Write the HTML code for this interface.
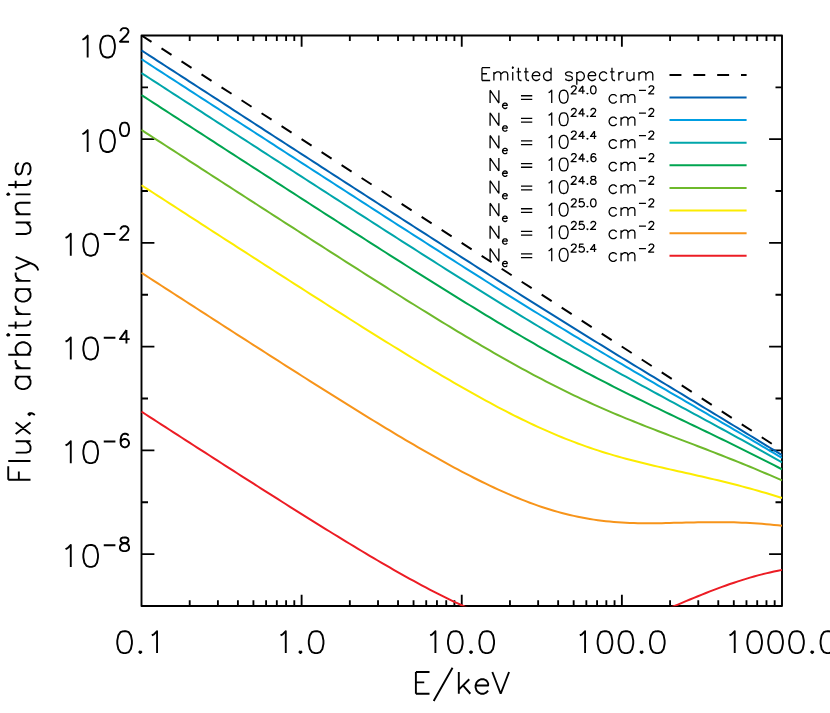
<!DOCTYPE html>
<html><head><meta charset="utf-8"><title>Flux vs E/keV</title>
<style>html,body{margin:0;padding:0;background:#fff;font-family:"Liberation Sans",sans-serif}svg{display:block}</style></head>
<body>
<svg width="830" height="713" viewBox="0 0 830 713">
<rect width="830" height="713" fill="#fff"/>
<defs><clipPath id="c"><rect x="141.1" y="35.05" width="641.3" height="571.3"/></clipPath></defs>
<path d="M189.7 35.45v5.6 M189.7 605.95v-5.6 M217.9 35.45v5.6 M217.9 605.95v-5.6 M237.9 35.45v5.6 M237.9 605.95v-5.6 M253.42 35.45v5.6 M253.42 605.95v-5.6 M266.1 35.45v5.6 M266.1 605.95v-5.6 M276.82 35.45v5.6 M276.82 605.95v-5.6 M286.11 35.45v5.6 M286.11 605.95v-5.6 M294.3 35.45v5.6 M294.3 605.95v-5.6 M301.62 35.45v11.3 M301.62 605.95v-11.3 M349.83 35.45v5.6 M349.83 605.95v-5.6 M378.02 35.45v5.6 M378.02 605.95v-5.6 M398.03 35.45v5.6 M398.03 605.95v-5.6 M413.55 35.45v5.6 M413.55 605.95v-5.6 M426.23 35.45v5.6 M426.23 605.95v-5.6 M436.95 35.45v5.6 M436.95 605.95v-5.6 M446.23 35.45v5.6 M446.23 605.95v-5.6 M454.42 35.45v5.6 M454.42 605.95v-5.6 M461.75 35.45v11.3 M461.75 605.95v-11.3 M509.95 35.45v5.6 M509.95 605.95v-5.6 M538.15 35.45v5.6 M538.15 605.95v-5.6 M558.15 35.45v5.6 M558.15 605.95v-5.6 M573.67 35.45v5.6 M573.67 605.95v-5.6 M586.35 35.45v5.6 M586.35 605.95v-5.6 M597.07 35.45v5.6 M597.07 605.95v-5.6 M606.36 35.45v5.6 M606.36 605.95v-5.6 M614.55 35.45v5.6 M614.55 605.95v-5.6 M621.88 35.45v11.3 M621.88 605.95v-11.3 M670.08 35.45v5.6 M670.08 605.95v-5.6 M698.27 35.45v5.6 M698.27 605.95v-5.6 M718.28 35.45v5.6 M718.28 605.95v-5.6 M733.8 35.45v5.6 M733.8 605.95v-5.6 M746.48 35.45v5.6 M746.48 605.95v-5.6 M757.2 35.45v5.6 M757.2 605.95v-5.6 M766.48 35.45v5.6 M766.48 605.95v-5.6 M774.67 35.45v5.6 M774.67 605.95v-5.6 M141.5 87.31h6.5 M782 87.31h-6.5 M141.5 139.18h12.9 M782 139.18h-12.9 M141.5 191.04h6.5 M782 191.04h-6.5 M141.5 242.9h12.9 M782 242.9h-12.9 M141.5 294.77h6.5 M782 294.77h-6.5 M141.5 346.63h12.9 M782 346.63h-12.9 M141.5 398.5h6.5 M782 398.5h-6.5 M141.5 450.36h12.9 M782 450.36h-12.9 M141.5 502.22h6.5 M782 502.22h-6.5 M141.5 554.09h12.9 M782 554.09h-12.9" fill="none" stroke="#000" stroke-width="1.85"/>
<rect x="141.5" y="35.45" width="640.5" height="570.5" fill="none" stroke="#000" stroke-width="1.9" stroke-linejoin="round"/>
<g clip-path="url(#c)" fill="none" stroke-width="2.0" stroke-linejoin="round">
<path d="M141.5 35.45 L782 450.36" stroke="#000" stroke-dasharray="11.92 11.92"/>
<path d="M141.5 50.43 L145.5 53.02 L149.51 55.61 L153.51 58.21 L157.51 60.8 L161.52 63.39 L165.52 65.98 L169.52 68.58 L173.52 71.17 L177.53 73.76 L181.53 76.36 L185.53 78.95 L189.54 81.54 L193.54 84.13 L197.54 86.73 L201.55 89.32 L205.55 91.91 L209.55 94.5 L213.56 97.09 L217.56 99.69 L221.56 102.28 L225.57 104.87 L229.57 107.46 L233.57 110.06 L237.57 112.65 L241.58 115.24 L245.58 117.83 L249.58 120.42 L253.59 123.01 L257.59 125.61 L261.59 128.2 L265.6 130.79 L269.6 133.38 L273.6 135.97 L277.61 138.56 L281.61 141.15 L285.61 143.74 L289.62 146.33 L293.62 148.92 L297.62 151.51 L301.62 154.1 L305.63 156.69 L309.63 159.28 L313.63 161.87 L317.64 164.46 L321.64 167.05 L325.64 169.64 L329.65 172.23 L333.65 174.81 L337.65 177.4 L341.66 179.99 L345.66 182.58 L349.66 185.16 L353.67 187.75 L357.67 190.34 L361.67 192.92 L365.67 195.51 L369.68 198.09 L373.68 200.68 L377.68 203.26 L381.69 205.84 L385.69 208.42 L389.69 211.01 L393.7 213.59 L397.7 216.17 L401.7 218.75 L405.71 221.33 L409.71 223.91 L413.71 226.48 L417.72 229.06 L421.72 231.64 L425.72 234.21 L429.73 236.78 L433.73 239.36 L437.73 241.93 L441.73 244.5 L445.74 247.07 L449.74 249.64 L453.74 252.2 L457.75 254.77 L461.75 257.33 L465.75 259.89 L469.76 262.45 L473.76 265.01 L477.76 267.57 L481.77 270.12 L485.77 272.67 L489.77 275.23 L493.78 277.77 L497.78 280.32 L501.78 282.86 L505.78 285.41 L509.79 287.94 L513.79 290.48 L517.79 293.01 L521.8 295.55 L525.8 298.07 L529.8 300.6 L533.81 303.12 L537.81 305.64 L541.81 308.15 L545.82 310.67 L549.82 313.18 L553.82 315.68 L557.83 318.18 L561.83 320.68 L565.83 323.18 L569.83 325.67 L573.84 328.16 L577.84 330.64 L581.84 333.12 L585.85 335.6 L589.85 338.07 L593.85 340.54 L597.86 343.01 L601.86 345.47 L605.86 347.93 L609.87 350.38 L613.87 352.84 L617.87 355.28 L621.88 357.73 L625.88 360.17 L629.88 362.61 L633.88 365.05 L637.89 367.49 L641.89 369.92 L645.89 372.35 L649.9 374.78 L653.9 377.21 L657.9 379.64 L661.91 382.06 L665.91 384.49 L669.91 386.91 L673.92 389.34 L677.92 391.76 L681.92 394.18 L685.92 396.61 L689.93 399.03 L693.93 401.45 L697.93 403.88 L701.94 406.3 L705.94 408.73 L709.94 411.16 L713.95 413.58 L717.95 416.01 L721.95 418.45 L725.96 420.88 L729.96 423.31 L733.96 425.75 L737.97 428.18 L741.97 430.62 L745.97 433.06 L749.98 435.51 L753.98 437.95 L757.98 440.4 L761.98 442.85 L765.99 445.3 L769.99 447.75 L773.99 450.2 L778 452.66 L782 455.12" stroke="#0060b0"/>
<path d="M141.5 59.19 L145.5 61.78 L149.51 64.37 L153.51 66.97 L157.51 69.56 L161.52 72.15 L165.52 74.74 L169.52 77.34 L173.52 79.93 L177.53 82.52 L181.53 85.11 L185.53 87.71 L189.54 90.3 L193.54 92.89 L197.54 95.48 L201.55 98.07 L205.55 100.67 L209.55 103.26 L213.56 105.85 L217.56 108.44 L221.56 111.03 L225.57 113.62 L229.57 116.22 L233.57 118.81 L237.57 121.4 L241.58 123.99 L245.58 126.58 L249.58 129.17 L253.59 131.76 L257.59 134.35 L261.59 136.94 L265.6 139.53 L269.6 142.12 L273.6 144.71 L277.61 147.3 L281.61 149.89 L285.61 152.48 L289.62 155.07 L293.62 157.66 L297.62 160.24 L301.62 162.83 L305.63 165.42 L309.63 168.01 L313.63 170.59 L317.64 173.18 L321.64 175.77 L325.64 178.35 L329.65 180.94 L333.65 183.52 L337.65 186.11 L341.66 188.69 L345.66 191.28 L349.66 193.86 L353.67 196.44 L357.67 199.02 L361.67 201.61 L365.67 204.19 L369.68 206.77 L373.68 209.34 L377.68 211.92 L381.69 214.5 L385.69 217.08 L389.69 219.65 L393.7 222.23 L397.7 224.8 L401.7 227.37 L405.71 229.94 L409.71 232.51 L413.71 235.08 L417.72 237.65 L421.72 240.21 L425.72 242.78 L429.73 245.34 L433.73 247.9 L437.73 250.46 L441.73 253.02 L445.74 255.57 L449.74 258.12 L453.74 260.67 L457.75 263.22 L461.75 265.77 L465.75 268.31 L469.76 270.85 L473.76 273.39 L477.76 275.93 L481.77 278.46 L485.77 280.99 L489.77 283.51 L493.78 286.03 L497.78 288.55 L501.78 291.07 L505.78 293.58 L509.79 296.09 L513.79 298.59 L517.79 301.09 L521.8 303.58 L525.8 306.07 L529.8 308.56 L533.81 311.04 L537.81 313.51 L541.81 315.98 L545.82 318.45 L549.82 320.91 L553.82 323.36 L557.83 325.81 L561.83 328.26 L565.83 330.69 L569.83 333.13 L573.84 335.55 L577.84 337.97 L581.84 340.39 L585.85 342.79 L589.85 345.2 L593.85 347.59 L597.86 349.99 L601.86 352.37 L605.86 354.75 L609.87 357.13 L613.87 359.5 L617.87 361.86 L621.88 364.22 L625.88 366.58 L629.88 368.93 L633.88 371.28 L637.89 373.62 L641.89 375.96 L645.89 378.3 L649.9 380.63 L653.9 382.96 L657.9 385.29 L661.91 387.62 L665.91 389.95 L669.91 392.27 L673.92 394.6 L677.92 396.92 L681.92 399.24 L685.92 401.57 L689.93 403.89 L693.93 406.22 L697.93 408.54 L701.94 410.87 L705.94 413.2 L709.94 415.53 L713.95 417.86 L717.95 420.19 L721.95 422.53 L725.96 424.87 L729.96 427.21 L733.96 429.55 L737.97 431.9 L741.97 434.25 L745.97 436.6 L749.98 438.95 L753.98 441.31 L757.98 443.67 L761.98 446.04 L765.99 448.4 L769.99 450.77 L773.99 453.14 L778 455.52 L782 457.9" stroke="#009ee2"/>
<path d="M141.5 73.07 L145.5 75.67 L149.51 78.26 L153.51 80.85 L157.51 83.44 L161.52 86.03 L165.52 88.63 L169.52 91.22 L173.52 93.81 L177.53 96.4 L181.53 98.99 L185.53 101.59 L189.54 104.18 L193.54 106.77 L197.54 109.36 L201.55 111.95 L205.55 114.54 L209.55 117.13 L213.56 119.72 L217.56 122.31 L221.56 124.91 L225.57 127.5 L229.57 130.09 L233.57 132.68 L237.57 135.27 L241.58 137.86 L245.58 140.44 L249.58 143.03 L253.59 145.62 L257.59 148.21 L261.59 150.8 L265.6 153.39 L269.6 155.98 L273.6 158.56 L277.61 161.15 L281.61 163.74 L285.61 166.33 L289.62 168.91 L293.62 171.5 L297.62 174.08 L301.62 176.67 L305.63 179.25 L309.63 181.84 L313.63 184.42 L317.64 187 L321.64 189.59 L325.64 192.17 L329.65 194.75 L333.65 197.33 L337.65 199.91 L341.66 202.49 L345.66 205.07 L349.66 207.64 L353.67 210.22 L357.67 212.79 L361.67 215.37 L365.67 217.94 L369.68 220.51 L373.68 223.08 L377.68 225.65 L381.69 228.22 L385.69 230.79 L389.69 233.35 L393.7 235.92 L397.7 238.48 L401.7 241.04 L405.71 243.59 L409.71 246.15 L413.71 248.7 L417.72 251.26 L421.72 253.81 L425.72 256.35 L429.73 258.9 L433.73 261.44 L437.73 263.98 L441.73 266.51 L445.74 269.05 L449.74 271.57 L453.74 274.1 L457.75 276.62 L461.75 279.14 L465.75 281.66 L469.76 284.17 L473.76 286.67 L477.76 289.17 L481.77 291.67 L485.77 294.16 L489.77 296.65 L493.78 299.13 L497.78 301.6 L501.78 304.07 L505.78 306.54 L509.79 308.99 L513.79 311.44 L517.79 313.89 L521.8 316.32 L525.8 318.75 L529.8 321.18 L533.81 323.59 L537.81 326 L541.81 328.39 L545.82 330.78 L549.82 333.17 L553.82 335.54 L557.83 337.9 L561.83 340.26 L565.83 342.61 L569.83 344.94 L573.84 347.27 L577.84 349.59 L581.84 351.9 L585.85 354.2 L589.85 356.49 L593.85 358.77 L597.86 361.05 L601.86 363.31 L605.86 365.57 L609.87 367.82 L613.87 370.05 L617.87 372.29 L621.88 374.51 L625.88 376.73 L629.88 378.94 L633.88 381.14 L637.89 383.34 L641.89 385.53 L645.89 387.72 L649.9 389.9 L653.9 392.08 L657.9 394.25 L661.91 396.43 L665.91 398.6 L669.91 400.77 L673.92 402.93 L677.92 405.1 L681.92 407.26 L685.92 409.43 L689.93 411.6 L693.93 413.77 L697.93 415.94 L701.94 418.11 L705.94 420.28 L709.94 422.46 L713.95 424.64 L717.95 426.82 L721.95 429 L725.96 431.19 L729.96 433.39 L733.96 435.58 L737.97 437.79 L741.97 439.99 L745.97 442.2 L749.98 444.42 L753.98 446.64 L757.98 448.86 L761.98 451.09 L765.99 453.32 L769.99 455.56 L773.99 457.81 L778 460.05 L782 462.31" stroke="#00a6aa"/>
<path d="M141.5 95.08 L145.5 97.67 L149.51 100.26 L153.51 102.85 L157.51 105.45 L161.52 108.04 L165.52 110.63 L169.52 113.22 L173.52 115.81 L177.53 118.4 L181.53 120.99 L185.53 123.58 L189.54 126.17 L193.54 128.76 L197.54 131.35 L201.55 133.94 L205.55 136.53 L209.55 139.12 L213.56 141.71 L217.56 144.3 L221.56 146.89 L225.57 149.48 L229.57 152.07 L233.57 154.66 L237.57 157.25 L241.58 159.83 L245.58 162.42 L249.58 165.01 L253.59 167.59 L257.59 170.18 L261.59 172.77 L265.6 175.35 L269.6 177.94 L273.6 180.52 L277.61 183.11 L281.61 185.69 L285.61 188.27 L289.62 190.85 L293.62 193.44 L297.62 196.02 L301.62 198.6 L305.63 201.18 L309.63 203.76 L313.63 206.33 L317.64 208.91 L321.64 211.49 L325.64 214.06 L329.65 216.63 L333.65 219.21 L337.65 221.78 L341.66 224.35 L345.66 226.92 L349.66 229.49 L353.67 232.05 L357.67 234.62 L361.67 237.18 L365.67 239.74 L369.68 242.3 L373.68 244.86 L377.68 247.41 L381.69 249.97 L385.69 252.52 L389.69 255.07 L393.7 257.61 L397.7 260.15 L401.7 262.7 L405.71 265.23 L409.71 267.77 L413.71 270.3 L417.72 272.82 L421.72 275.35 L425.72 277.87 L429.73 280.38 L433.73 282.9 L437.73 285.4 L441.73 287.9 L445.74 290.4 L449.74 292.89 L453.74 295.38 L457.75 297.86 L461.75 300.34 L465.75 302.8 L469.76 305.26 L473.76 307.72 L477.76 310.17 L481.77 312.61 L485.77 315.04 L489.77 317.46 L493.78 319.88 L497.78 322.28 L501.78 324.68 L505.78 327.07 L509.79 329.45 L513.79 331.81 L517.79 334.17 L521.8 336.51 L525.8 338.85 L529.8 341.17 L533.81 343.48 L537.81 345.78 L541.81 348.06 L545.82 350.33 L549.82 352.59 L553.82 354.84 L557.83 357.07 L561.83 359.28 L565.83 361.49 L569.83 363.67 L573.84 365.85 L577.84 368 L581.84 370.15 L585.85 372.28 L589.85 374.39 L593.85 376.49 L597.86 378.58 L601.86 380.65 L605.86 382.71 L609.87 384.76 L613.87 386.79 L617.87 388.81 L621.88 390.82 L625.88 392.81 L629.88 394.8 L633.88 396.77 L637.89 398.74 L641.89 400.7 L645.89 402.65 L649.9 404.59 L653.9 406.53 L657.9 408.46 L661.91 410.38 L665.91 412.31 L669.91 414.23 L673.92 416.14 L677.92 418.06 L681.92 419.98 L685.92 421.89 L689.93 423.81 L693.93 425.73 L697.93 427.65 L701.94 429.58 L705.94 431.51 L709.94 433.44 L713.95 435.38 L717.95 437.32 L721.95 439.27 L725.96 441.22 L729.96 443.18 L733.96 445.14 L737.97 447.12 L741.97 449.1 L745.97 451.08 L749.98 453.08 L753.98 455.08 L757.98 457.09 L761.98 459.1 L765.99 461.12 L769.99 463.16 L773.99 465.2 L778 467.24 L782 469.3" stroke="#00a550"/>
<path d="M141.5 129.96 L145.5 132.55 L149.51 135.14 L153.51 137.73 L157.51 140.32 L161.52 142.91 L165.52 145.5 L169.52 148.09 L173.52 150.68 L177.53 153.27 L181.53 155.86 L185.53 158.45 L189.54 161.04 L193.54 163.63 L197.54 166.21 L201.55 168.8 L205.55 171.39 L209.55 173.98 L213.56 176.57 L217.56 179.15 L221.56 181.74 L225.57 184.33 L229.57 186.91 L233.57 189.5 L237.57 192.08 L241.58 194.67 L245.58 197.25 L249.58 199.83 L253.59 202.42 L257.59 205 L261.59 207.58 L265.6 210.16 L269.6 212.74 L273.6 215.32 L277.61 217.9 L281.61 220.48 L285.61 223.05 L289.62 225.63 L293.62 228.2 L297.62 230.78 L301.62 233.35 L305.63 235.92 L309.63 238.49 L313.63 241.06 L317.64 243.63 L321.64 246.2 L325.64 248.76 L329.65 251.32 L333.65 253.88 L337.65 256.44 L341.66 259 L345.66 261.55 L349.66 264.11 L353.67 266.66 L357.67 269.2 L361.67 271.75 L365.67 274.29 L369.68 276.83 L373.68 279.37 L377.68 281.9 L381.69 284.43 L385.69 286.96 L389.69 289.48 L393.7 292 L397.7 294.51 L401.7 297.02 L405.71 299.53 L409.71 302.03 L413.71 304.52 L417.72 307.01 L421.72 309.49 L425.72 311.97 L429.73 314.44 L433.73 316.9 L437.73 319.36 L441.73 321.81 L445.74 324.25 L449.74 326.68 L453.74 329.11 L457.75 331.52 L461.75 333.93 L465.75 336.32 L469.76 338.71 L473.76 341.08 L477.76 343.44 L481.77 345.79 L485.77 348.13 L489.77 350.45 L493.78 352.77 L497.78 355.06 L501.78 357.34 L505.78 359.61 L509.79 361.86 L513.79 364.1 L517.79 366.32 L521.8 368.52 L525.8 370.7 L529.8 372.86 L533.81 375.01 L537.81 377.13 L541.81 379.23 L545.82 381.32 L549.82 383.38 L553.82 385.42 L557.83 387.44 L561.83 389.43 L565.83 391.41 L569.83 393.36 L573.84 395.28 L577.84 397.19 L581.84 399.07 L585.85 400.93 L589.85 402.76 L593.85 404.58 L597.86 406.37 L601.86 408.13 L605.86 409.88 L609.87 411.6 L613.87 413.31 L617.87 414.99 L621.88 416.66 L625.88 418.31 L629.88 419.94 L633.88 421.55 L637.89 423.15 L641.89 424.74 L645.89 426.31 L649.9 427.87 L653.9 429.43 L657.9 430.97 L661.91 432.51 L665.91 434.04 L669.91 435.56 L673.92 437.08 L677.92 438.61 L681.92 440.13 L685.92 441.65 L689.93 443.17 L693.93 444.69 L697.93 446.22 L701.94 447.76 L705.94 449.3 L709.94 450.84 L713.95 452.4 L717.95 453.96 L721.95 455.53 L725.96 457.11 L729.96 458.7 L733.96 460.3 L737.97 461.9 L741.97 463.53 L745.97 465.16 L749.98 466.8 L753.98 468.45 L757.98 470.12 L761.98 471.8 L765.99 473.49 L769.99 475.19 L773.99 476.91 L778 478.63 L782 480.38" stroke="#6eb92b"/>
<path d="M141.5 185.23 L145.5 187.82 L149.51 190.41 L153.51 193 L157.51 195.59 L161.52 198.18 L165.52 200.77 L169.52 203.35 L173.52 205.94 L177.53 208.53 L181.53 211.12 L185.53 213.7 L189.54 216.29 L193.54 218.88 L197.54 221.46 L201.55 224.05 L205.55 226.63 L209.55 229.22 L213.56 231.8 L217.56 234.38 L221.56 236.97 L225.57 239.55 L229.57 242.13 L233.57 244.71 L237.57 247.29 L241.58 249.87 L245.58 252.45 L249.58 255.03 L253.59 257.61 L257.59 260.18 L261.59 262.76 L265.6 265.33 L269.6 267.9 L273.6 270.47 L277.61 273.04 L281.61 275.61 L285.61 278.18 L289.62 280.75 L293.62 283.31 L297.62 285.87 L301.62 288.43 L305.63 290.99 L309.63 293.55 L313.63 296.1 L317.64 298.66 L321.64 301.21 L325.64 303.75 L329.65 306.3 L333.65 308.84 L337.65 311.38 L341.66 313.91 L345.66 316.45 L349.66 318.98 L353.67 321.5 L357.67 324.02 L361.67 326.54 L365.67 329.05 L369.68 331.56 L373.68 334.06 L377.68 336.56 L381.69 339.06 L385.69 341.54 L389.69 344.02 L393.7 346.5 L397.7 348.96 L401.7 351.42 L405.71 353.88 L409.71 356.32 L413.71 358.76 L417.72 361.19 L421.72 363.61 L425.72 366.01 L429.73 368.41 L433.73 370.8 L437.73 373.18 L441.73 375.54 L445.74 377.89 L449.74 380.23 L453.74 382.56 L457.75 384.87 L461.75 387.16 L465.75 389.44 L469.76 391.71 L473.76 393.95 L477.76 396.18 L481.77 398.39 L485.77 400.57 L489.77 402.74 L493.78 404.89 L497.78 407.01 L501.78 409.11 L505.78 411.19 L509.79 413.24 L513.79 415.27 L517.79 417.26 L521.8 419.23 L525.8 421.18 L529.8 423.09 L533.81 424.97 L537.81 426.82 L541.81 428.64 L545.82 430.42 L549.82 432.17 L553.82 433.89 L557.83 435.57 L561.83 437.22 L565.83 438.83 L569.83 440.4 L573.84 441.94 L577.84 443.44 L581.84 444.91 L585.85 446.34 L589.85 447.73 L593.85 449.08 L597.86 450.4 L601.86 451.69 L605.86 452.94 L609.87 454.16 L613.87 455.34 L617.87 456.49 L621.88 457.62 L625.88 458.71 L629.88 459.78 L633.88 460.82 L637.89 461.84 L641.89 462.84 L645.89 463.81 L649.9 464.77 L653.9 465.72 L657.9 466.65 L661.91 467.56 L665.91 468.47 L669.91 469.38 L673.92 470.27 L677.92 471.17 L681.92 472.06 L685.92 472.95 L689.93 473.85 L693.93 474.75 L697.93 475.66 L701.94 476.57 L705.94 477.49 L709.94 478.43 L713.95 479.37 L717.95 480.33 L721.95 481.3 L725.96 482.29 L729.96 483.29 L733.96 484.31 L737.97 485.34 L741.97 486.39 L745.97 487.46 L749.98 488.55 L753.98 489.65 L757.98 490.78 L761.98 491.92 L765.99 493.08 L769.99 494.27 L773.99 495.47 L778 496.69 L782 497.93" stroke="#fcec00"/>
<path d="M141.5 272.84 L145.5 275.42 L149.51 278.01 L153.51 280.6 L157.51 283.19 L161.52 285.77 L165.52 288.36 L169.52 290.94 L173.52 293.53 L177.53 296.11 L181.53 298.7 L185.53 301.28 L189.54 303.86 L193.54 306.44 L197.54 309.03 L201.55 311.61 L205.55 314.19 L209.55 316.77 L213.56 319.34 L217.56 321.92 L221.56 324.5 L225.57 327.08 L229.57 329.65 L233.57 332.22 L237.57 334.8 L241.58 337.37 L245.58 339.94 L249.58 342.51 L253.59 345.07 L257.59 347.64 L261.59 350.2 L265.6 352.77 L269.6 355.33 L273.6 357.89 L277.61 360.44 L281.61 363 L285.61 365.55 L289.62 368.1 L293.62 370.65 L297.62 373.19 L301.62 375.73 L305.63 378.27 L309.63 380.81 L313.63 383.34 L317.64 385.87 L321.64 388.39 L325.64 390.91 L329.65 393.43 L333.65 395.94 L337.65 398.45 L341.66 400.95 L345.66 403.45 L349.66 405.94 L353.67 408.42 L357.67 410.9 L361.67 413.38 L365.67 415.84 L369.68 418.3 L373.68 420.75 L377.68 423.19 L381.69 425.63 L385.69 428.05 L389.69 430.47 L393.7 432.87 L397.7 435.27 L401.7 437.65 L405.71 440.02 L409.71 442.38 L413.71 444.72 L417.72 447.05 L421.72 449.37 L425.72 451.67 L429.73 453.96 L433.73 456.22 L437.73 458.47 L441.73 460.7 L445.74 462.91 L449.74 465.1 L453.74 467.27 L457.75 469.42 L461.75 471.54 L465.75 473.64 L469.76 475.7 L473.76 477.75 L477.76 479.76 L481.77 481.74 L485.77 483.69 L489.77 485.61 L493.78 487.5 L497.78 489.35 L501.78 491.16 L505.78 492.93 L509.79 494.67 L513.79 496.36 L517.79 498.01 L521.8 499.62 L525.8 501.18 L529.8 502.69 L533.81 504.16 L537.81 505.57 L541.81 506.93 L545.82 508.25 L549.82 509.51 L553.82 510.71 L557.83 511.86 L561.83 512.95 L565.83 513.99 L569.83 514.97 L573.84 515.89 L577.84 516.75 L581.84 517.56 L585.85 518.31 L589.85 518.99 L593.85 519.63 L597.86 520.2 L601.86 520.72 L605.86 521.19 L609.87 521.6 L613.87 521.96 L617.87 522.27 L621.88 522.53 L625.88 522.75 L629.88 522.93 L633.88 523.06 L637.89 523.16 L641.89 523.22 L645.89 523.25 L649.9 523.26 L653.9 523.23 L657.9 523.19 L661.91 523.13 L665.91 523.05 L669.91 522.97 L673.92 522.87 L677.92 522.77 L681.92 522.67 L685.92 522.57 L689.93 522.47 L693.93 522.38 L697.93 522.3 L701.94 522.24 L705.94 522.18 L709.94 522.15 L713.95 522.13 L717.95 522.13 L721.95 522.15 L725.96 522.2 L729.96 522.27 L733.96 522.37 L737.97 522.49 L741.97 522.64 L745.97 522.81 L749.98 523.02 L753.98 523.26 L757.98 523.52 L761.98 523.81 L765.99 524.14 L769.99 524.5 L773.99 524.88 L778 525.3 L782 525.76" stroke="#f7941a"/>
<path d="M141.5 411.68 L145.5 414.27 L149.51 416.85 L153.51 419.43 L157.51 422.02 L161.52 424.6 L165.52 427.18 L169.52 429.76 L173.52 432.34 L177.53 434.92 L181.53 437.5 L185.53 440.08 L189.54 442.65 L193.54 445.23 L197.54 447.8 L201.55 450.38 L205.55 452.95 L209.55 455.52 L213.56 458.09 L217.56 460.66 L221.56 463.23 L225.57 465.79 L229.57 468.36 L233.57 470.92 L237.57 473.48 L241.58 476.04 L245.58 478.6 L249.58 481.15 L253.59 483.7 L257.59 486.25 L261.59 488.8 L265.6 491.34 L269.6 493.88 L273.6 496.42 L277.61 498.96 L281.61 501.49 L285.61 504.02 L289.62 506.54 L293.62 509.06 L297.62 511.58 L301.62 514.09 L305.63 516.6 L309.63 519.1 L313.63 521.6 L317.64 524.09 L321.64 526.57 L325.64 529.05 L329.65 531.52 L333.65 533.99 L337.65 536.44 L341.66 538.89 L345.66 541.33 L349.66 543.76 L353.67 546.19 L357.67 548.6 L361.67 551 L365.67 553.39 L369.68 555.77 L373.68 558.14 L377.68 560.49 L381.69 562.84 L385.69 565.16 L389.69 567.47 L393.7 569.77 L397.7 572.04 L401.7 574.3 L405.71 576.55 L409.71 578.77 L413.71 580.97 L417.72 583.14 L421.72 585.3 L425.72 587.43 L429.73 589.53 L433.73 591.61 L437.73 593.66 L441.73 595.68 L445.74 597.66 L449.74 599.62 L453.74 601.54 L457.75 603.42 L461.75 605.27 L465.75 607.07 L469.76 608.83 L473.76 610.55 L477.76 612.23 L481.77 613.85 L485.77 615.43 L489.77 616.96 L493.78 618.43 L497.78 619.84 L501.78 621.2 L505.78 622.49 L509.79 623.72 L513.79 624.89 L517.79 625.99 L521.8 627.01 L525.8 627.97 L529.8 628.85 L533.81 629.66 L537.81 630.38 L541.81 631.03 L545.82 631.59 L549.82 632.07 L553.82 632.46 L557.83 632.77 L561.83 632.98 L565.83 633.11 L569.83 633.15 L573.84 633.09 L577.84 632.94 L581.84 632.7 L585.85 632.37 L589.85 631.94 L593.85 631.43 L597.86 630.82 L601.86 630.13 L605.86 629.35 L609.87 628.49 L613.87 627.54 L617.87 626.52 L621.88 625.42 L625.88 624.25 L629.88 623.01 L633.88 621.7 L637.89 620.34 L641.89 618.92 L645.89 617.46 L649.9 615.95 L653.9 614.39 L657.9 612.81 L661.91 611.2 L665.91 609.56 L669.91 607.9 L673.92 606.23 L677.92 604.56 L681.92 602.88 L685.92 601.2 L689.93 599.54 L693.93 597.88 L697.93 596.23 L701.94 594.61 L705.94 593.01 L709.94 591.43 L713.95 589.89 L717.95 588.37 L721.95 586.89 L725.96 585.45 L729.96 584.05 L733.96 582.68 L737.97 581.36 L741.97 580.08 L745.97 578.84 L749.98 577.65 L753.98 576.51 L757.98 575.41 L761.98 574.36 L765.99 573.36 L769.99 572.41 L773.99 571.51 L778 570.66 L782 569.86" stroke="#ec1c24"/>
</g>
<path d="M123.55 631.18 L120.41 632.22 L118.31 635.35 L117.27 640.57 L117.27 643.71 L118.31 648.92 L120.41 652.06 L123.55 653.1 L125.64 653.1 L128.78 652.06 L130.88 648.92 L131.92 643.71 L131.92 640.57 L130.88 635.35 L128.78 632.22 L125.64 631.18 L123.55 631.18 M140.3 651.01 L139.25 652.06 L140.3 653.1 L141.35 652.06 L140.3 651.01 M151.82 635.35 L153.91 634.31 L157.05 631.18 L157.05 653.1 M280.53 635.35 L282.63 634.31 L285.77 631.18 L285.77 653.1 M300.43 651.01 L299.38 652.06 L300.43 653.1 L301.47 652.06 L300.43 651.01 M315.08 631.18 L311.94 632.22 L309.85 635.35 L308.8 640.57 L308.8 643.71 L309.85 648.92 L311.94 652.06 L315.08 653.1 L317.18 653.1 L320.32 652.06 L322.41 648.92 L323.46 643.71 L323.46 640.57 L322.41 635.35 L320.32 632.22 L317.18 631.18 L315.08 631.18 M430.19 635.35 L432.28 634.31 L435.42 631.18 L435.42 653.1 M454.27 631.18 L451.13 632.22 L449.03 635.35 L447.99 640.57 L447.99 643.71 L449.03 648.92 L451.13 652.06 L454.27 653.1 L456.36 653.1 L459.5 652.06 L461.6 648.92 L462.64 643.71 L462.64 640.57 L461.6 635.35 L459.5 632.22 L456.36 631.18 L454.27 631.18 M471.02 651.01 L469.97 652.06 L471.02 653.1 L472.07 652.06 L471.02 651.01 M485.68 631.18 L482.54 632.22 L480.44 635.35 L479.4 640.57 L479.4 643.71 L480.44 648.92 L482.54 652.06 L485.68 653.1 L487.77 653.1 L490.91 652.06 L493.01 648.92 L494.05 643.71 L494.05 640.57 L493.01 635.35 L490.91 632.22 L487.77 631.18 L485.68 631.18 M579.84 635.35 L581.94 634.31 L585.08 631.18 L585.08 653.1 M603.92 631.18 L600.78 632.22 L598.69 635.35 L597.64 640.57 L597.64 643.71 L598.69 648.92 L600.78 652.06 L603.92 653.1 L606.02 653.1 L609.16 652.06 L611.25 648.92 L612.3 643.71 L612.3 640.57 L611.25 635.35 L609.16 632.22 L606.02 631.18 L603.92 631.18 M624.86 631.18 L621.72 632.22 L619.63 635.35 L618.58 640.57 L618.58 643.71 L619.63 648.92 L621.72 652.06 L624.86 653.1 L626.96 653.1 L630.1 652.06 L632.19 648.92 L633.24 643.71 L633.24 640.57 L632.19 635.35 L630.1 632.22 L626.96 631.18 L624.86 631.18 M641.62 651.01 L640.57 652.06 L641.62 653.1 L642.66 652.06 L641.62 651.01 M656.27 631.18 L653.13 632.22 L651.04 635.35 L649.99 640.57 L649.99 643.71 L651.04 648.92 L653.13 652.06 L656.27 653.1 L658.37 653.1 L661.51 652.06 L663.6 648.92 L664.65 643.71 L664.65 640.57 L663.6 635.35 L661.51 632.22 L658.37 631.18 L656.27 631.18 M729.5 635.35 L731.59 634.31 L734.73 631.18 L734.73 653.1 M753.58 631.18 L750.44 632.22 L748.34 635.35 L747.3 640.57 L747.3 643.71 L748.34 648.92 L750.44 652.06 L753.58 653.1 L755.67 653.1 L758.81 652.06 L760.91 648.92 L761.95 643.71 L761.95 640.57 L760.91 635.35 L758.81 632.22 L755.67 631.18 L753.58 631.18 M774.52 631.18 L771.38 632.22 L769.28 635.35 L768.24 640.57 L768.24 643.71 L769.28 648.92 L771.38 652.06 L774.52 653.1 L776.61 653.1 L779.75 652.06 L781.85 648.92 L782.89 643.71 L782.89 640.57 L781.85 635.35 L779.75 632.22 L776.61 631.18 L774.52 631.18 M795.46 631.18 L792.32 632.22 L790.22 635.35 L789.18 640.57 L789.18 643.71 L790.22 648.92 L792.32 652.06 L795.46 653.1 L797.55 653.1 L800.69 652.06 L802.79 648.92 L803.83 643.71 L803.83 640.57 L802.79 635.35 L800.69 632.22 L797.55 631.18 L795.46 631.18 M812.21 651.01 L811.16 652.06 L812.21 653.1 L813.26 652.06 L812.21 651.01 M826.87 631.18 L823.73 632.22 L821.63 635.35 L820.59 640.57 L820.59 643.71 L821.63 648.92 L823.73 652.06 L826.87 653.1 L828.96 653.1 L832.1 652.06 L834.2 648.92 L835.24 643.71 L835.24 640.57 L834.2 635.35 L832.1 632.22 L828.96 631.18 L826.87 631.18 M82.42 39.75 L84.51 38.71 L87.65 35.58 L87.65 57.5 M106.5 35.58 L103.36 36.62 L101.27 39.75 L100.22 44.97 L100.22 48.11 L101.27 53.32 L103.36 56.46 L106.5 57.5 L108.59 57.5 L111.74 56.46 L113.83 53.32 L114.88 48.11 L114.88 44.97 L113.83 39.75 L111.74 36.62 L108.59 35.58 L106.5 35.58 M120.61 31.34 L120.61 30.69 L121.26 29.39 L121.91 28.75 L123.21 28.1 L125.81 28.1 L127.11 28.75 L127.75 29.39 L128.4 30.69 L128.4 31.98 L127.75 33.28 L126.46 35.22 L119.96 41.69 L129.05 41.69 M82.42 134.23 L84.51 133.19 L87.65 130.06 L87.65 151.98 M106.5 130.06 L103.36 131.1 L101.27 134.23 L100.22 139.45 L100.22 142.58 L101.27 147.8 L103.36 150.93 L106.5 151.98 L108.59 151.98 L111.74 150.93 L113.83 147.8 L114.88 142.58 L114.88 139.45 L113.83 134.23 L111.74 131.1 L108.59 130.06 L106.5 130.06 M123.86 122.58 L121.91 123.22 L120.61 125.17 L119.96 128.4 L119.96 130.34 L120.61 133.58 L121.91 135.52 L123.86 136.17 L125.16 136.17 L127.11 135.52 L128.4 133.58 L129.05 130.34 L129.05 128.4 L128.4 125.17 L127.11 123.22 L125.16 122.58 L123.86 122.58 M65.54 237.96 L67.64 236.92 L70.78 233.78 L70.78 255.7 M89.62 233.78 L86.48 234.83 L84.39 237.96 L83.34 243.18 L83.34 246.31 L84.39 251.53 L86.48 254.66 L89.62 255.7 L91.72 255.7 L94.86 254.66 L96.95 251.53 L98 246.31 L98 243.18 L96.95 237.96 L94.86 234.83 L91.72 233.78 L89.62 233.78 M103.74 234.07 L115.42 234.07 M120.61 229.54 L120.61 228.89 L121.26 227.6 L121.91 226.95 L123.21 226.3 L125.81 226.3 L127.11 226.95 L127.75 227.6 L128.4 228.89 L128.4 230.19 L127.75 231.48 L126.46 233.42 L119.96 239.89 L129.05 239.89 M65.54 341.69 L67.64 340.64 L70.78 337.51 L70.78 359.43 M89.62 337.51 L86.48 338.55 L84.39 341.69 L83.34 346.91 L83.34 350.04 L84.39 355.26 L86.48 358.39 L89.62 359.43 L91.72 359.43 L94.86 358.39 L96.95 355.26 L98 350.04 L98 346.91 L96.95 341.69 L94.86 338.55 L91.72 337.51 L89.62 337.51 M103.74 337.8 L115.42 337.8 M126.46 330.03 L119.96 339.09 L129.7 339.09 M126.46 330.03 L126.46 343.62 M65.54 445.41 L67.64 444.37 L70.78 441.24 L70.78 463.16 M89.62 441.24 L86.48 442.28 L84.39 445.41 L83.34 450.63 L83.34 453.76 L84.39 458.98 L86.48 462.12 L89.62 463.16 L91.72 463.16 L94.86 462.12 L96.95 458.98 L98 453.76 L98 450.63 L96.95 445.41 L94.86 442.28 L91.72 441.24 L89.62 441.24 M103.74 441.52 L115.42 441.52 M128.4 435.7 L127.75 434.41 L125.81 433.76 L124.51 433.76 L122.56 434.41 L121.26 436.35 L120.61 439.58 L120.61 442.82 L121.26 445.41 L122.56 446.7 L124.51 447.35 L125.16 447.35 L127.11 446.7 L128.4 445.41 L129.05 443.47 L129.05 442.82 L128.4 440.88 L127.11 439.58 L125.16 438.94 L124.51 438.94 L122.56 439.58 L121.26 440.88 L120.61 442.82 M65.54 549.14 L67.64 548.1 L70.78 544.97 L70.78 566.89 M89.62 544.97 L86.48 546.01 L84.39 549.14 L83.34 554.36 L83.34 557.49 L84.39 562.71 L86.48 565.84 L89.62 566.89 L91.72 566.89 L94.86 565.84 L96.95 562.71 L98 557.49 L98 554.36 L96.95 549.14 L94.86 546.01 L91.72 544.97 L89.62 544.97 M103.74 545.25 L115.42 545.25 M123.21 537.49 L121.26 538.13 L120.61 539.43 L120.61 540.72 L121.26 542.02 L122.56 542.66 L125.16 543.31 L127.11 543.96 L128.4 545.25 L129.05 546.55 L129.05 548.49 L128.4 549.78 L127.75 550.43 L125.81 551.08 L123.21 551.08 L121.26 550.43 L120.61 549.78 L119.96 548.49 L119.96 546.55 L120.61 545.25 L121.91 543.96 L123.86 543.31 L126.46 542.66 L127.75 542.02 L128.4 540.72 L128.4 539.43 L127.75 538.13 L125.81 537.49 L123.21 537.49 M415.89 671.98 L415.89 693.75 M415.89 671.98 L429.5 671.98 M415.89 682.35 L424.26 682.35 M415.89 693.75 L429.5 693.75 M452.53 667.84 L433.69 701.01 M458.81 671.98 L458.81 693.75 M469.28 679.24 L458.81 689.6 M463 685.46 L470.33 693.75 M475.57 685.46 L488.13 685.46 L488.13 683.38 L487.08 681.31 L486.04 680.28 L483.94 679.24 L480.8 679.24 L478.71 680.28 L476.61 682.35 L475.57 685.46 L475.57 687.53 L476.61 690.64 L478.71 692.71 L480.8 693.75 L483.94 693.75 L486.04 692.71 L488.13 690.64 M492.32 671.98 L500.69 693.75 M509.07 671.98 L500.69 693.75" fill="none" stroke="#000" stroke-width="1.9" stroke-linecap="butt" stroke-linejoin="round"/>
<path transform="translate(30.5 483.9) rotate(-90)" d="M4.17 -22.26 L4.17 0 M4.17 -22.26 L17.7 -22.26 M4.17 -11.66 L12.5 -11.66 M22.91 -22.26 L22.91 0 M31.24 -14.84 L31.24 -4.24 L32.28 -1.06 L34.37 0 L37.49 0 L39.57 -1.06 L42.7 -4.24 M42.7 -14.84 L42.7 0 M49.99 -14.84 L61.44 0 M61.44 -14.84 L49.99 0 M70.82 -1.06 L69.77 0 L68.73 -1.06 L69.77 -2.12 L70.82 -1.06 L70.82 1.06 L69.77 3.18 L68.73 4.24 M107.26 -14.84 L107.26 0 M107.26 -11.66 L105.18 -13.78 L103.1 -14.84 L99.97 -14.84 L97.89 -13.78 L95.81 -11.66 L94.77 -8.48 L94.77 -6.36 L95.81 -3.18 L97.89 -1.06 L99.97 0 L103.1 0 L105.18 -1.06 L107.26 -3.18 M115.6 -14.84 L115.6 0 M115.6 -8.48 L116.64 -11.66 L118.72 -13.78 L120.8 -14.84 L123.93 -14.84 M129.13 -22.26 L129.13 0 M129.13 -11.66 L131.22 -13.78 L133.3 -14.84 L136.42 -14.84 L138.51 -13.78 L140.59 -11.66 L141.63 -8.48 L141.63 -6.36 L140.59 -3.18 L138.51 -1.06 L136.42 0 L133.3 0 L131.22 -1.06 L129.13 -3.18 M147.88 -22.26 L148.92 -21.2 L149.96 -22.26 L148.92 -23.32 L147.88 -22.26 M148.92 -14.84 L148.92 0 M158.29 -22.26 L158.29 -4.24 L159.33 -1.06 L161.42 0 L163.5 0 M155.17 -14.84 L162.46 -14.84 M169.75 -14.84 L169.75 0 M169.75 -8.48 L170.79 -11.66 L172.87 -13.78 L174.96 -14.84 L178.08 -14.84 M194.74 -14.84 L194.74 0 M194.74 -11.66 L192.66 -13.78 L190.58 -14.84 L187.45 -14.84 L185.37 -13.78 L183.29 -11.66 L182.25 -8.48 L182.25 -6.36 L183.29 -3.18 L185.37 -1.06 L187.45 0 L190.58 0 L192.66 -1.06 L194.74 -3.18 M203.07 -14.84 L203.07 0 M203.07 -8.48 L204.11 -11.66 L206.2 -13.78 L208.28 -14.84 L211.4 -14.84 M214.53 -14.84 L220.78 0 M227.03 -14.84 L220.78 0 L218.69 4.24 L216.61 6.36 L214.53 7.42 L213.49 7.42 M249.94 -14.84 L249.94 -4.24 L250.98 -1.06 L253.06 0 L256.18 0 L258.27 -1.06 L261.39 -4.24 M261.39 -14.84 L261.39 0 M269.72 -14.84 L269.72 0 M269.72 -10.6 L272.85 -13.78 L274.93 -14.84 L278.05 -14.84 L280.14 -13.78 L281.18 -10.6 L281.18 0 M288.47 -22.26 L289.51 -21.2 L290.55 -22.26 L289.51 -23.32 L288.47 -22.26 M289.51 -14.84 L289.51 0 M298.88 -22.26 L298.88 -4.24 L299.92 -1.06 L302.01 0 L304.09 0 M295.76 -14.84 L303.05 -14.84 M320.75 -11.66 L319.71 -13.78 L316.59 -14.84 L313.46 -14.84 L310.34 -13.78 L309.3 -11.66 L310.34 -9.54 L312.42 -8.48 L317.63 -7.42 L319.71 -6.36 L320.75 -4.24 L320.75 -3.18 L319.71 -1.06 L316.59 0 L313.46 0 L310.34 -1.06 L309.3 -3.18" fill="none" stroke="#000" stroke-width="1.9" stroke-linecap="butt" stroke-linejoin="round"/>
<path d="M481.97 67.64 L481.97 80.5 M481.97 67.64 L490.14 67.64 M481.97 73.76 L487 73.76 M481.97 80.5 L490.14 80.5 M493.9 71.93 L493.9 80.5 M493.9 74.38 L495.79 72.54 L497.04 71.93 L498.93 71.93 L500.18 72.54 L500.81 74.38 L500.81 80.5 M500.81 74.38 L502.7 72.54 L503.95 71.93 L505.84 71.93 L507.09 72.54 L507.72 74.38 L507.72 80.5 M512.12 67.64 L512.74 68.25 L513.37 67.64 L512.74 67.03 L512.12 67.64 M512.74 71.93 L512.74 80.5 M518.4 67.64 L518.4 78.05 L519.02 79.89 L520.28 80.5 L521.54 80.5 M516.51 71.93 L520.91 71.93 M525.93 67.64 L525.93 78.05 L526.56 79.89 L527.82 80.5 L529.07 80.5 M524.05 71.93 L528.44 71.93 M532.21 75.6 L539.75 75.6 L539.75 74.38 L539.12 73.15 L538.49 72.54 L537.24 71.93 L535.35 71.93 L534.1 72.54 L532.84 73.76 L532.21 75.6 L532.21 76.83 L532.84 78.66 L534.1 79.89 L535.35 80.5 L537.24 80.5 L538.49 79.89 L539.75 78.66 M551.05 67.64 L551.05 80.5 M551.05 73.76 L549.8 72.54 L548.54 71.93 L546.66 71.93 L545.4 72.54 L544.14 73.76 L543.52 75.6 L543.52 76.83 L544.14 78.66 L545.4 79.89 L546.66 80.5 L548.54 80.5 L549.8 79.89 L551.05 78.66 M572.4 73.76 L571.78 72.54 L569.89 71.93 L568.01 71.93 L566.12 72.54 L565.5 73.76 L566.12 74.99 L567.38 75.6 L570.52 76.21 L571.78 76.83 L572.4 78.05 L572.4 78.66 L571.78 79.89 L569.89 80.5 L568.01 80.5 L566.12 79.89 L565.5 78.66 M576.8 71.93 L576.8 84.79 M576.8 73.76 L578.06 72.54 L579.31 71.93 L581.2 71.93 L582.45 72.54 L583.71 73.76 L584.34 75.6 L584.34 76.83 L583.71 78.66 L582.45 79.89 L581.2 80.5 L579.31 80.5 L578.06 79.89 L576.8 78.66 M588.1 75.6 L595.64 75.6 L595.64 74.38 L595.01 73.15 L594.38 72.54 L593.13 71.93 L591.24 71.93 L589.99 72.54 L588.73 73.76 L588.1 75.6 L588.1 76.83 L588.73 78.66 L589.99 79.89 L591.24 80.5 L593.13 80.5 L594.38 79.89 L595.64 78.66 M606.94 73.76 L605.69 72.54 L604.43 71.93 L602.55 71.93 L601.29 72.54 L600.04 73.76 L599.41 75.6 L599.41 76.83 L600.04 78.66 L601.29 79.89 L602.55 80.5 L604.43 80.5 L605.69 79.89 L606.94 78.66 M611.97 67.64 L611.97 78.05 L612.6 79.89 L613.85 80.5 L615.11 80.5 M610.08 71.93 L614.48 71.93 M618.88 71.93 L618.88 80.5 M618.88 75.6 L619.5 73.76 L620.76 72.54 L622.02 71.93 L623.9 71.93 M627.04 71.93 L627.04 78.05 L627.67 79.89 L628.92 80.5 L630.81 80.5 L632.06 79.89 L633.95 78.05 M633.95 71.93 L633.95 80.5 M638.97 71.93 L638.97 80.5 M638.97 74.38 L640.86 72.54 L642.11 71.93 L644 71.93 L645.25 72.54 L645.88 74.38 L645.88 80.5 M645.88 74.38 L647.76 72.54 L649.02 71.93 L650.9 71.93 L652.16 72.54 L652.79 74.38 L652.79 80.5 M490.09 90.24 L490.09 103.1 M490.09 90.24 L498.88 103.1 M498.88 90.24 L498.88 103.1 M502.56 105.46 L507.23 105.46 L507.23 104.7 L506.84 103.95 L506.45 103.57 L505.67 103.19 L504.5 103.19 L503.73 103.57 L502.95 104.32 L502.56 105.46 L502.56 106.22 L502.95 107.36 L503.73 108.12 L504.5 108.5 L505.67 108.5 L506.45 108.12 L507.23 107.36 M520.96 95.75 L532.26 95.75 M520.96 99.43 L532.26 99.43 M548.59 92.69 L549.85 92.08 L551.73 90.24 L551.73 103.1 M563.03 90.24 L561.15 90.85 L559.89 92.69 L559.27 95.75 L559.27 97.59 L559.89 100.65 L561.15 102.49 L563.03 103.1 L564.29 103.1 L566.17 102.49 L567.43 100.65 L568.06 97.59 L568.06 95.75 L567.43 92.69 L566.17 90.85 L564.29 90.24 L563.03 90.24 M571.5 87.79 L571.5 87.41 L571.89 86.66 L572.28 86.28 L573.06 85.9 L574.61 85.9 L575.39 86.28 L575.78 86.66 L576.17 87.41 L576.17 88.17 L575.78 88.93 L575 90.07 L571.11 93.87 L576.56 93.87 M582.79 85.9 L578.9 91.21 L584.74 91.21 M582.79 85.9 L582.79 93.87 M587.46 93.11 L587.07 93.49 L587.46 93.87 L587.85 93.49 L587.46 93.11 M592.91 85.9 L591.75 86.28 L590.97 87.41 L590.58 89.31 L590.58 90.45 L590.97 92.35 L591.75 93.49 L592.91 93.87 L593.69 93.87 L594.86 93.49 L595.64 92.35 L596.03 90.45 L596.03 89.31 L595.64 87.41 L594.86 86.28 L593.69 85.9 L592.91 85.9 M616.67 96.36 L615.41 95.14 L614.15 94.53 L612.27 94.53 L611.01 95.14 L609.76 96.36 L609.13 98.2 L609.13 99.43 L609.76 101.26 L611.01 102.49 L612.27 103.1 L614.15 103.1 L615.41 102.49 L616.67 101.26 M621.06 94.53 L621.06 103.1 M621.06 96.98 L622.95 95.14 L624.2 94.53 L626.09 94.53 L627.34 95.14 L627.97 96.98 L627.97 103.1 M627.97 96.98 L629.85 95.14 L631.11 94.53 L632.99 94.53 L634.25 95.14 L634.88 96.98 L634.88 103.1 M638.95 90.45 L645.96 90.45 M649.07 87.79 L649.07 87.41 L649.46 86.66 L649.85 86.28 L650.63 85.9 L652.19 85.9 L652.96 86.28 L653.35 86.66 L653.74 87.41 L653.74 88.17 L653.35 88.93 L652.57 90.07 L648.68 93.87 L654.13 93.87 M490.09 112.84 L490.09 125.7 M490.09 112.84 L498.88 125.7 M498.88 112.84 L498.88 125.7 M502.56 128.06 L507.23 128.06 L507.23 127.3 L506.84 126.55 L506.45 126.17 L505.67 125.79 L504.5 125.79 L503.73 126.17 L502.95 126.92 L502.56 128.06 L502.56 128.82 L502.95 129.96 L503.73 130.72 L504.5 131.1 L505.67 131.1 L506.45 130.72 L507.23 129.96 M520.96 118.35 L532.26 118.35 M520.96 122.03 L532.26 122.03 M548.59 115.29 L549.85 114.68 L551.73 112.84 L551.73 125.7 M563.03 112.84 L561.15 113.45 L559.89 115.29 L559.27 118.35 L559.27 120.19 L559.89 123.25 L561.15 125.09 L563.03 125.7 L564.29 125.7 L566.17 125.09 L567.43 123.25 L568.06 120.19 L568.06 118.35 L567.43 115.29 L566.17 113.45 L564.29 112.84 L563.03 112.84 M571.5 110.39 L571.5 110.01 L571.89 109.26 L572.28 108.88 L573.06 108.5 L574.61 108.5 L575.39 108.88 L575.78 109.26 L576.17 110.01 L576.17 110.77 L575.78 111.53 L575 112.67 L571.11 116.47 L576.56 116.47 M582.79 108.5 L578.9 113.81 L584.74 113.81 M582.79 108.5 L582.79 116.47 M587.46 115.71 L587.07 116.09 L587.46 116.47 L587.85 116.09 L587.46 115.71 M590.97 110.39 L590.97 110.01 L591.36 109.26 L591.75 108.88 L592.53 108.5 L594.08 108.5 L594.86 108.88 L595.25 109.26 L595.64 110.01 L595.64 110.77 L595.25 111.53 L594.47 112.67 L590.58 116.47 L596.03 116.47 M616.67 118.96 L615.41 117.74 L614.15 117.13 L612.27 117.13 L611.01 117.74 L609.76 118.96 L609.13 120.8 L609.13 122.03 L609.76 123.86 L611.01 125.09 L612.27 125.7 L614.15 125.7 L615.41 125.09 L616.67 123.86 M621.06 117.13 L621.06 125.7 M621.06 119.58 L622.95 117.74 L624.2 117.13 L626.09 117.13 L627.34 117.74 L627.97 119.58 L627.97 125.7 M627.97 119.58 L629.85 117.74 L631.11 117.13 L632.99 117.13 L634.25 117.74 L634.88 119.58 L634.88 125.7 M638.95 113.05 L645.96 113.05 M649.07 110.39 L649.07 110.01 L649.46 109.26 L649.85 108.88 L650.63 108.5 L652.19 108.5 L652.96 108.88 L653.35 109.26 L653.74 110.01 L653.74 110.77 L653.35 111.53 L652.57 112.67 L648.68 116.47 L654.13 116.47 M490.09 135.44 L490.09 148.3 M490.09 135.44 L498.88 148.3 M498.88 135.44 L498.88 148.3 M502.56 150.66 L507.23 150.66 L507.23 149.9 L506.84 149.15 L506.45 148.77 L505.67 148.39 L504.5 148.39 L503.73 148.77 L502.95 149.52 L502.56 150.66 L502.56 151.42 L502.95 152.56 L503.73 153.32 L504.5 153.7 L505.67 153.7 L506.45 153.32 L507.23 152.56 M520.96 140.95 L532.26 140.95 M520.96 144.63 L532.26 144.63 M548.59 137.89 L549.85 137.28 L551.73 135.44 L551.73 148.3 M563.03 135.44 L561.15 136.05 L559.89 137.89 L559.27 140.95 L559.27 142.79 L559.89 145.85 L561.15 147.69 L563.03 148.3 L564.29 148.3 L566.17 147.69 L567.43 145.85 L568.06 142.79 L568.06 140.95 L567.43 137.89 L566.17 136.05 L564.29 135.44 L563.03 135.44 M571.5 132.99 L571.5 132.61 L571.89 131.86 L572.28 131.48 L573.06 131.1 L574.61 131.1 L575.39 131.48 L575.78 131.86 L576.17 132.61 L576.17 133.37 L575.78 134.13 L575 135.27 L571.11 139.07 L576.56 139.07 M582.79 131.1 L578.9 136.41 L584.74 136.41 M582.79 131.1 L582.79 139.07 M587.46 138.31 L587.07 138.69 L587.46 139.07 L587.85 138.69 L587.46 138.31 M594.47 131.1 L590.58 136.41 L596.42 136.41 M594.47 131.1 L594.47 139.07 M616.67 141.56 L615.41 140.34 L614.15 139.73 L612.27 139.73 L611.01 140.34 L609.76 141.56 L609.13 143.4 L609.13 144.63 L609.76 146.46 L611.01 147.69 L612.27 148.3 L614.15 148.3 L615.41 147.69 L616.67 146.46 M621.06 139.73 L621.06 148.3 M621.06 142.18 L622.95 140.34 L624.2 139.73 L626.09 139.73 L627.34 140.34 L627.97 142.18 L627.97 148.3 M627.97 142.18 L629.85 140.34 L631.11 139.73 L632.99 139.73 L634.25 140.34 L634.88 142.18 L634.88 148.3 M638.95 135.65 L645.96 135.65 M649.07 132.99 L649.07 132.61 L649.46 131.86 L649.85 131.48 L650.63 131.1 L652.19 131.1 L652.96 131.48 L653.35 131.86 L653.74 132.61 L653.74 133.37 L653.35 134.13 L652.57 135.27 L648.68 139.07 L654.13 139.07 M490.09 158.04 L490.09 170.9 M490.09 158.04 L498.88 170.9 M498.88 158.04 L498.88 170.9 M502.56 173.26 L507.23 173.26 L507.23 172.5 L506.84 171.75 L506.45 171.37 L505.67 170.99 L504.5 170.99 L503.73 171.37 L502.95 172.12 L502.56 173.26 L502.56 174.02 L502.95 175.16 L503.73 175.92 L504.5 176.3 L505.67 176.3 L506.45 175.92 L507.23 175.16 M520.96 163.55 L532.26 163.55 M520.96 167.23 L532.26 167.23 M548.59 160.49 L549.85 159.88 L551.73 158.04 L551.73 170.9 M563.03 158.04 L561.15 158.65 L559.89 160.49 L559.27 163.55 L559.27 165.39 L559.89 168.45 L561.15 170.29 L563.03 170.9 L564.29 170.9 L566.17 170.29 L567.43 168.45 L568.06 165.39 L568.06 163.55 L567.43 160.49 L566.17 158.65 L564.29 158.04 L563.03 158.04 M571.5 155.59 L571.5 155.21 L571.89 154.46 L572.28 154.08 L573.06 153.7 L574.61 153.7 L575.39 154.08 L575.78 154.46 L576.17 155.21 L576.17 155.97 L575.78 156.73 L575 157.87 L571.11 161.67 L576.56 161.67 M582.79 153.7 L578.9 159.01 L584.74 159.01 M582.79 153.7 L582.79 161.67 M587.46 160.91 L587.07 161.29 L587.46 161.67 L587.85 161.29 L587.46 160.91 M595.64 154.84 L595.25 154.08 L594.08 153.7 L593.3 153.7 L592.14 154.08 L591.36 155.21 L590.97 157.11 L590.97 159.01 L591.36 160.53 L592.14 161.29 L593.3 161.67 L593.69 161.67 L594.86 161.29 L595.64 160.53 L596.03 159.39 L596.03 159.01 L595.64 157.87 L594.86 157.11 L593.69 156.73 L593.3 156.73 L592.14 157.11 L591.36 157.87 L590.97 159.01 M616.67 164.16 L615.41 162.94 L614.15 162.33 L612.27 162.33 L611.01 162.94 L609.76 164.16 L609.13 166 L609.13 167.23 L609.76 169.06 L611.01 170.29 L612.27 170.9 L614.15 170.9 L615.41 170.29 L616.67 169.06 M621.06 162.33 L621.06 170.9 M621.06 164.78 L622.95 162.94 L624.2 162.33 L626.09 162.33 L627.34 162.94 L627.97 164.78 L627.97 170.9 M627.97 164.78 L629.85 162.94 L631.11 162.33 L632.99 162.33 L634.25 162.94 L634.88 164.78 L634.88 170.9 M638.95 158.25 L645.96 158.25 M649.07 155.59 L649.07 155.21 L649.46 154.46 L649.85 154.08 L650.63 153.7 L652.19 153.7 L652.96 154.08 L653.35 154.46 L653.74 155.21 L653.74 155.97 L653.35 156.73 L652.57 157.87 L648.68 161.67 L654.13 161.67 M490.09 180.64 L490.09 193.5 M490.09 180.64 L498.88 193.5 M498.88 180.64 L498.88 193.5 M502.56 195.86 L507.23 195.86 L507.23 195.1 L506.84 194.35 L506.45 193.97 L505.67 193.59 L504.5 193.59 L503.73 193.97 L502.95 194.72 L502.56 195.86 L502.56 196.62 L502.95 197.76 L503.73 198.52 L504.5 198.9 L505.67 198.9 L506.45 198.52 L507.23 197.76 M520.96 186.15 L532.26 186.15 M520.96 189.83 L532.26 189.83 M548.59 183.09 L549.85 182.48 L551.73 180.64 L551.73 193.5 M563.03 180.64 L561.15 181.25 L559.89 183.09 L559.27 186.15 L559.27 187.99 L559.89 191.05 L561.15 192.89 L563.03 193.5 L564.29 193.5 L566.17 192.89 L567.43 191.05 L568.06 187.99 L568.06 186.15 L567.43 183.09 L566.17 181.25 L564.29 180.64 L563.03 180.64 M571.5 178.19 L571.5 177.81 L571.89 177.06 L572.28 176.68 L573.06 176.3 L574.61 176.3 L575.39 176.68 L575.78 177.06 L576.17 177.81 L576.17 178.57 L575.78 179.33 L575 180.47 L571.11 184.27 L576.56 184.27 M582.79 176.3 L578.9 181.61 L584.74 181.61 M582.79 176.3 L582.79 184.27 M587.46 183.51 L587.07 183.89 L587.46 184.27 L587.85 183.89 L587.46 183.51 M592.53 176.3 L591.36 176.68 L590.97 177.44 L590.97 178.19 L591.36 178.95 L592.14 179.33 L593.69 179.71 L594.86 180.09 L595.64 180.85 L596.03 181.61 L596.03 182.75 L595.64 183.51 L595.25 183.89 L594.08 184.27 L592.53 184.27 L591.36 183.89 L590.97 183.51 L590.58 182.75 L590.58 181.61 L590.97 180.85 L591.75 180.09 L592.91 179.71 L594.47 179.33 L595.25 178.95 L595.64 178.19 L595.64 177.44 L595.25 176.68 L594.08 176.3 L592.53 176.3 M616.67 186.76 L615.41 185.54 L614.15 184.93 L612.27 184.93 L611.01 185.54 L609.76 186.76 L609.13 188.6 L609.13 189.83 L609.76 191.66 L611.01 192.89 L612.27 193.5 L614.15 193.5 L615.41 192.89 L616.67 191.66 M621.06 184.93 L621.06 193.5 M621.06 187.38 L622.95 185.54 L624.2 184.93 L626.09 184.93 L627.34 185.54 L627.97 187.38 L627.97 193.5 M627.97 187.38 L629.85 185.54 L631.11 184.93 L632.99 184.93 L634.25 185.54 L634.88 187.38 L634.88 193.5 M638.95 180.85 L645.96 180.85 M649.07 178.19 L649.07 177.81 L649.46 177.06 L649.85 176.68 L650.63 176.3 L652.19 176.3 L652.96 176.68 L653.35 177.06 L653.74 177.81 L653.74 178.57 L653.35 179.33 L652.57 180.47 L648.68 184.27 L654.13 184.27 M490.09 203.24 L490.09 216.1 M490.09 203.24 L498.88 216.1 M498.88 203.24 L498.88 216.1 M502.56 218.46 L507.23 218.46 L507.23 217.7 L506.84 216.95 L506.45 216.57 L505.67 216.19 L504.5 216.19 L503.73 216.57 L502.95 217.32 L502.56 218.46 L502.56 219.22 L502.95 220.36 L503.73 221.12 L504.5 221.5 L505.67 221.5 L506.45 221.12 L507.23 220.36 M520.96 208.75 L532.26 208.75 M520.96 212.43 L532.26 212.43 M548.59 205.69 L549.85 205.08 L551.73 203.24 L551.73 216.1 M563.03 203.24 L561.15 203.85 L559.89 205.69 L559.27 208.75 L559.27 210.59 L559.89 213.65 L561.15 215.49 L563.03 216.1 L564.29 216.1 L566.17 215.49 L567.43 213.65 L568.06 210.59 L568.06 208.75 L567.43 205.69 L566.17 203.85 L564.29 203.24 L563.03 203.24 M571.5 200.79 L571.5 200.41 L571.89 199.66 L572.28 199.28 L573.06 198.9 L574.61 198.9 L575.39 199.28 L575.78 199.66 L576.17 200.41 L576.17 201.17 L575.78 201.93 L575 203.07 L571.11 206.87 L576.56 206.87 M583.57 198.9 L579.68 198.9 L579.29 202.31 L579.68 201.93 L580.84 201.55 L582.01 201.55 L583.18 201.93 L583.96 202.69 L584.35 203.83 L584.35 204.59 L583.96 205.73 L583.18 206.49 L582.01 206.87 L580.84 206.87 L579.68 206.49 L579.29 206.11 L578.9 205.35 M587.46 206.11 L587.07 206.49 L587.46 206.87 L587.85 206.49 L587.46 206.11 M592.91 198.9 L591.75 199.28 L590.97 200.41 L590.58 202.31 L590.58 203.45 L590.97 205.35 L591.75 206.49 L592.91 206.87 L593.69 206.87 L594.86 206.49 L595.64 205.35 L596.03 203.45 L596.03 202.31 L595.64 200.41 L594.86 199.28 L593.69 198.9 L592.91 198.9 M616.67 209.36 L615.41 208.14 L614.15 207.53 L612.27 207.53 L611.01 208.14 L609.76 209.36 L609.13 211.2 L609.13 212.43 L609.76 214.26 L611.01 215.49 L612.27 216.1 L614.15 216.1 L615.41 215.49 L616.67 214.26 M621.06 207.53 L621.06 216.1 M621.06 209.98 L622.95 208.14 L624.2 207.53 L626.09 207.53 L627.34 208.14 L627.97 209.98 L627.97 216.1 M627.97 209.98 L629.85 208.14 L631.11 207.53 L632.99 207.53 L634.25 208.14 L634.88 209.98 L634.88 216.1 M638.95 203.45 L645.96 203.45 M649.07 200.79 L649.07 200.41 L649.46 199.66 L649.85 199.28 L650.63 198.9 L652.19 198.9 L652.96 199.28 L653.35 199.66 L653.74 200.41 L653.74 201.17 L653.35 201.93 L652.57 203.07 L648.68 206.87 L654.13 206.87 M490.09 225.84 L490.09 238.7 M490.09 225.84 L498.88 238.7 M498.88 225.84 L498.88 238.7 M502.56 241.06 L507.23 241.06 L507.23 240.3 L506.84 239.55 L506.45 239.17 L505.67 238.79 L504.5 238.79 L503.73 239.17 L502.95 239.92 L502.56 241.06 L502.56 241.82 L502.95 242.96 L503.73 243.72 L504.5 244.1 L505.67 244.1 L506.45 243.72 L507.23 242.96 M520.96 231.35 L532.26 231.35 M520.96 235.03 L532.26 235.03 M548.59 228.29 L549.85 227.68 L551.73 225.84 L551.73 238.7 M563.03 225.84 L561.15 226.45 L559.89 228.29 L559.27 231.35 L559.27 233.19 L559.89 236.25 L561.15 238.09 L563.03 238.7 L564.29 238.7 L566.17 238.09 L567.43 236.25 L568.06 233.19 L568.06 231.35 L567.43 228.29 L566.17 226.45 L564.29 225.84 L563.03 225.84 M571.5 223.39 L571.5 223.01 L571.89 222.26 L572.28 221.88 L573.06 221.5 L574.61 221.5 L575.39 221.88 L575.78 222.26 L576.17 223.01 L576.17 223.77 L575.78 224.53 L575 225.67 L571.11 229.47 L576.56 229.47 M583.57 221.5 L579.68 221.5 L579.29 224.91 L579.68 224.53 L580.84 224.15 L582.01 224.15 L583.18 224.53 L583.96 225.29 L584.35 226.43 L584.35 227.19 L583.96 228.33 L583.18 229.09 L582.01 229.47 L580.84 229.47 L579.68 229.09 L579.29 228.71 L578.9 227.95 M587.46 228.71 L587.07 229.09 L587.46 229.47 L587.85 229.09 L587.46 228.71 M590.97 223.39 L590.97 223.01 L591.36 222.26 L591.75 221.88 L592.53 221.5 L594.08 221.5 L594.86 221.88 L595.25 222.26 L595.64 223.01 L595.64 223.77 L595.25 224.53 L594.47 225.67 L590.58 229.47 L596.03 229.47 M616.67 231.96 L615.41 230.74 L614.15 230.13 L612.27 230.13 L611.01 230.74 L609.76 231.96 L609.13 233.8 L609.13 235.03 L609.76 236.86 L611.01 238.09 L612.27 238.7 L614.15 238.7 L615.41 238.09 L616.67 236.86 M621.06 230.13 L621.06 238.7 M621.06 232.58 L622.95 230.74 L624.2 230.13 L626.09 230.13 L627.34 230.74 L627.97 232.58 L627.97 238.7 M627.97 232.58 L629.85 230.74 L631.11 230.13 L632.99 230.13 L634.25 230.74 L634.88 232.58 L634.88 238.7 M638.95 226.05 L645.96 226.05 M649.07 223.39 L649.07 223.01 L649.46 222.26 L649.85 221.88 L650.63 221.5 L652.19 221.5 L652.96 221.88 L653.35 222.26 L653.74 223.01 L653.74 223.77 L653.35 224.53 L652.57 225.67 L648.68 229.47 L654.13 229.47 M490.09 248.44 L490.09 261.3 M490.09 248.44 L498.88 261.3 M498.88 248.44 L498.88 261.3 M502.56 263.66 L507.23 263.66 L507.23 262.9 L506.84 262.15 L506.45 261.77 L505.67 261.39 L504.5 261.39 L503.73 261.77 L502.95 262.52 L502.56 263.66 L502.56 264.42 L502.95 265.56 L503.73 266.32 L504.5 266.7 L505.67 266.7 L506.45 266.32 L507.23 265.56 M520.96 253.95 L532.26 253.95 M520.96 257.63 L532.26 257.63 M548.59 250.89 L549.85 250.28 L551.73 248.44 L551.73 261.3 M563.03 248.44 L561.15 249.05 L559.89 250.89 L559.27 253.95 L559.27 255.79 L559.89 258.85 L561.15 260.69 L563.03 261.3 L564.29 261.3 L566.17 260.69 L567.43 258.85 L568.06 255.79 L568.06 253.95 L567.43 250.89 L566.17 249.05 L564.29 248.44 L563.03 248.44 M571.5 245.99 L571.5 245.61 L571.89 244.86 L572.28 244.48 L573.06 244.1 L574.61 244.1 L575.39 244.48 L575.78 244.86 L576.17 245.61 L576.17 246.37 L575.78 247.13 L575 248.27 L571.11 252.07 L576.56 252.07 M583.57 244.1 L579.68 244.1 L579.29 247.51 L579.68 247.13 L580.84 246.75 L582.01 246.75 L583.18 247.13 L583.96 247.89 L584.35 249.03 L584.35 249.79 L583.96 250.93 L583.18 251.69 L582.01 252.07 L580.84 252.07 L579.68 251.69 L579.29 251.31 L578.9 250.55 M587.46 251.31 L587.07 251.69 L587.46 252.07 L587.85 251.69 L587.46 251.31 M594.47 244.1 L590.58 249.41 L596.42 249.41 M594.47 244.1 L594.47 252.07 M616.67 254.56 L615.41 253.34 L614.15 252.73 L612.27 252.73 L611.01 253.34 L609.76 254.56 L609.13 256.4 L609.13 257.63 L609.76 259.46 L611.01 260.69 L612.27 261.3 L614.15 261.3 L615.41 260.69 L616.67 259.46 M621.06 252.73 L621.06 261.3 M621.06 255.18 L622.95 253.34 L624.2 252.73 L626.09 252.73 L627.34 253.34 L627.97 255.18 L627.97 261.3 M627.97 255.18 L629.85 253.34 L631.11 252.73 L632.99 252.73 L634.25 253.34 L634.88 255.18 L634.88 261.3 M638.95 248.65 L645.96 248.65 M649.07 245.99 L649.07 245.61 L649.46 244.86 L649.85 244.48 L650.63 244.1 L652.19 244.1 L652.96 244.48 L653.35 244.86 L653.74 245.61 L653.74 246.37 L653.35 247.13 L652.57 248.27 L648.68 252.07 L654.13 252.07" fill="none" stroke="#000" stroke-width="1.3" stroke-linecap="butt" stroke-linejoin="round"/>
<path d="M669.5 74.9 H746.6" fill="none" stroke="#000" stroke-width="2.0" stroke-dasharray="11.92 11.92"/>
<path d="M669.5 97.51 H746.6" fill="none" stroke="#0060b0" stroke-width="2.0"/>
<path d="M669.5 120.12 H746.6" fill="none" stroke="#009ee2" stroke-width="2.0"/>
<path d="M669.5 142.73 H746.6" fill="none" stroke="#00a6aa" stroke-width="2.0"/>
<path d="M669.5 165.34 H746.6" fill="none" stroke="#00a550" stroke-width="2.0"/>
<path d="M669.5 187.95 H746.6" fill="none" stroke="#6eb92b" stroke-width="2.0"/>
<path d="M669.5 210.56 H746.6" fill="none" stroke="#fcec00" stroke-width="2.0"/>
<path d="M669.5 233.17 H746.6" fill="none" stroke="#f7941a" stroke-width="2.0"/>
<path d="M669.5 255.78 H746.6" fill="none" stroke="#ec1c24" stroke-width="2.0"/>
</svg>
</body></html>
